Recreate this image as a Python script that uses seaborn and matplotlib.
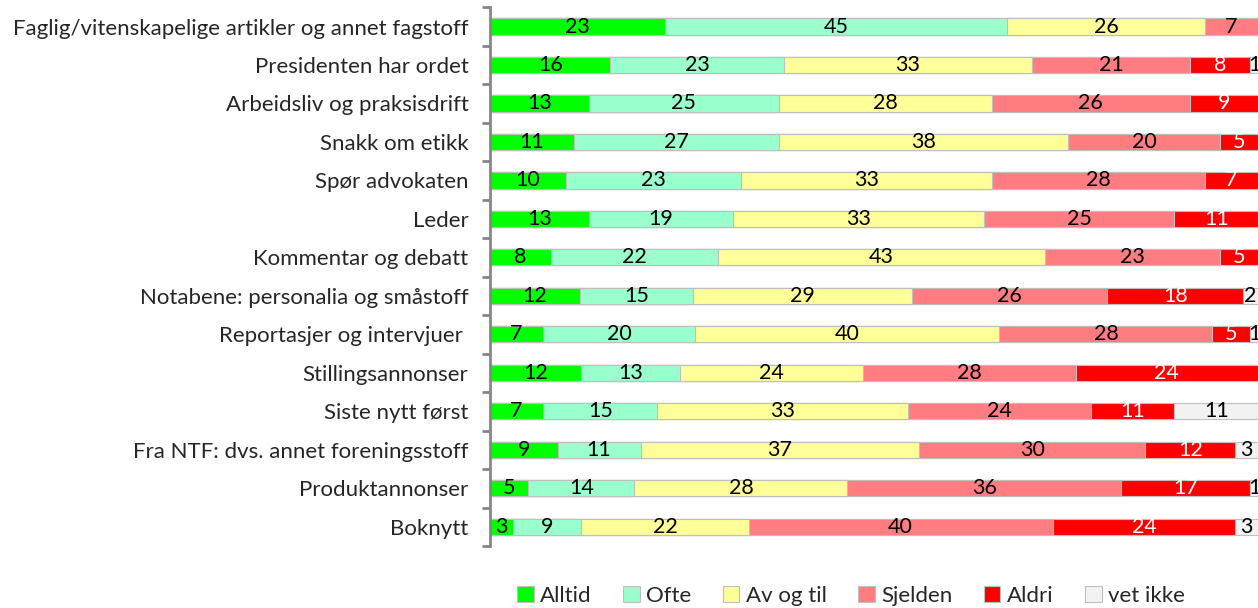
import numpy as np
import pandas as pd
import matplotlib
matplotlib.use("Agg")
import matplotlib.pyplot as plt
import seaborn as sns

# ================================================
# DATA
# ================================================
categories = [
    "Faglig/vitenskapelige artikler og annet fagstoff",
    "Presidenten har ordet",
    "Arbeidsliv og praksisdrift",
    "Snakk om etikk",
    "Spør advokaten",
    "Leder",
    "Kommentar og debatt",
    "Notabene: personalia og småstoff",
    "Reportasjer og intervjuer ",
    "Stillingsannonser",
    "Siste nytt først",
    "Fra NTF: dvs. annet foreningsstoff",
    "Produktannonser",
    "Boknytt",
]
series = ["Alltid", "Ofte", "Av og til", "Sjelden", "Aldri", "vet ikke"]

alltid = [23, 16, 13, 11, 10, 13, 8, 12, 7, 12, 7, 9, 5, 3]
ofte = [45, 23, 25, 27, 23, 19, 22, 15, 20, 13, 15, 11, 14, 9]
av_og_til = [26, 33, 28, 38, 33, 33, 43, 29, 40, 24, 33, 37, 28, 22]
sjelden = [7, 21, 26, 20, 28, 25, 23, 26, 28, 28, 24, 30, 36, 40]
aldri = [0, 8, 9, 5, 7, 11, 5, 18, 5, 24, 11, 12, 17, 24]
vet_ikke = [0, 1, 0, 0, 0, 0, 0, 2, 1, 0, 11, 3, 1, 3]

colors = ["#00FF00", "#99FFCC", "#FFFF99", "#FF7C80", "#FF0000", "#F2F2F2"]
text_colors = ["black", "black", "black", "black", "white", "black"]

# ================================================
# PREP - 100% stacked
# ================================================
df = pd.DataFrame({
    "Alltid": alltid, "Ofte": ofte, "Av og til": av_og_til,
    "Sjelden": sjelden, "Aldri": aldri, "vet ikke": vet_ikke,
}, index=categories)
share = df.div(df.sum(axis=1), axis=0) * 100
cum = share.cumsum(axis=1)

# ================================================
# PLOT
# ================================================
sns.set_style("white")
plt.rcParams['font.family'] = ['Lato', 'DejaVu Sans']

fig, ax = plt.subplots(figsize=(12.58, 6.08), dpi=100)
fig.subplots_adjust(left=0.3895, right=1.0, top=0.988, bottom=0.102)

# draw cumulative totals back to front
for i in reversed(range(len(series))):
    sns.barplot(x=cum[series[i]].values, y=categories, orient="h",
                color=colors[i], width=0.42, edgecolor="#BFBFBF",
                linewidth=0.8, saturation=1, ax=ax, label=series[i])

# segment labels
for i, s in enumerate(series):
    for j, cat in enumerate(categories):
        v = df.loc[cat, s]
        if v == 0:
            continue
        mid = cum.loc[cat, s] - share.loc[cat, s] / 2
        ax.text(mid, j, str(v), ha="center", va="center",
                fontsize=15.5, color=text_colors[i])

handles, labels = ax.get_legend_handles_labels()
if ax.get_legend() is not None:
    ax.get_legend().remove()

ax.set_xlim(0, 100)
ax.set_ylim(len(categories) - 0.5, -0.5)
ax.set_xlabel("")
ax.set_ylabel("")
ax.set_xticks([])
for sp in ["top", "right", "bottom"]:
    ax.spines[sp].set_visible(False)
ax.spines["left"].set_color("#868686")
ax.spines["left"].set_linewidth(2)
ax.tick_params(axis="y", which="major", left=False, labelsize=16, pad=12)
ax.set_yticks(np.arange(len(categories) + 1) - 0.5, minor=True)
ax.tick_params(axis="y", which="minor", left=True, length=6, width=2,
               color="#868686", direction="out")

order = [labels.index(s) for s in series]
fig.legend([handles[k] for k in order], series, loc="center",
           bbox_to_anchor=(0.6765, 0.02), ncol=6, frameon=False,
           fontsize=16, handlelength=0.75, handleheight=0.75,
           handletextpad=0.3, columnspacing=1.4)

plt.savefig("out.png", dpi=100)
